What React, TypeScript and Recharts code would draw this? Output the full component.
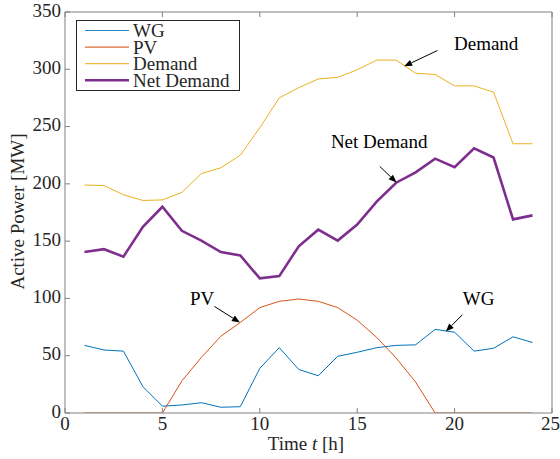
import React from 'react';
import { LineChart, Line, XAxis, YAxis, Legend, ReferenceLine, ReferenceDot } from 'recharts';

const hours = [1, 2, 3, 4, 5, 6, 7, 8, 9, 10, 11, 12, 13, 14, 15, 16, 17, 18, 19, 20, 21, 22, 23, 24];
const wg = [59, 55, 54, 23, 6, 7, 9, 5, 5.5, 39, 57, 38, 32.5, 49.5, 53, 57, 59, 59.5, 73, 70.5, 54, 56.5, 66.5, 61.5];
const pv = [0, 0, 0, 0, 0, 28, 48.5, 67, 79, 92, 97.5, 99.5, 97.5, 92, 81, 66, 48, 27, 0, 0, 0, 0, 0, 0];
const demand = [199, 198.5, 190.5, 185.5, 186, 192.5, 209, 214, 225, 249, 275, 284, 291.5, 293, 299.5, 308, 308, 296.5, 295.5, 285.5, 285.5, 280, 235, 235];
const netDemand = [140.5, 143, 136.5, 162.5, 180, 159, 150.5, 140.5, 137.5, 117.5, 119.5, 145.5, 160, 150.5, 164.5, 184.5, 201, 210, 222, 214.5, 231, 223, 169, 172.5];

const xTicks = [0, 5, 10, 15, 20, 25];
const yTicks = [0, 50, 100, 150, 200, 250, 300, 350];

const seriesNames = ['WG', 'PV', 'Demand', 'Net Demand'];
const seriesKeys = ['wg', 'pv', 'demand', 'net'];
const seriesColors = ['#0072BD', '#D95319', '#EDB120', '#7E2F8E'];
const seriesWidths = [1, 1, 1, 2.6];

// annotation texts: [label, x, y(baseline)]
const annoTexts: [string, number, number][] = [
  ['Demand', 19.97, 317],
  ['Net Demand', 13.65, 231],
  ['PV', 6.42, 94.5],
  ['WG', 20.42, 94.5],
];
// annotation arrows: [xStart, yStart, xTip, yTip]
const annoArrows: [number, number, number, number][] = [
  [19.12, 316.4, 17.41, 302.6],
  [16.16, 215.2, 17.02, 201.2],
  [7.67, 93, 8.98, 79],
  [20.4, 85.8, 19.55, 71.2],
];

const data = hours.map((t, i) => ({ t, wg: wg[i], pv: pv[i], demand: demand[i], net: netDemand[i] }));

const FONT = '"Liberation Serif", "Times New Roman", serif';
const TEXT = '#262626';
const AXIS = '#808080';

const EmptyTick = () => <g />;

const Arrow = (p: any) => {
  const { x1, y1, x2, y2 } = p;
  const ang = Math.atan2(y2 - y1, x2 - x1);
  const L = 8;
  const W = 3.2;
  const bx = x2 - L * Math.cos(ang);
  const by = y2 - L * Math.sin(ang);
  const px = -Math.sin(ang) * W;
  const py = Math.cos(ang) * W;
  return (
    <g>
      <line x1={x1} y1={y1} x2={bx} y2={by} stroke="#000" strokeWidth={1} />
      <polygon points={`${x2},${y2} ${bx + px},${by + py} ${bx - px},${by - py}`} fill="#000" />
    </g>
  );
};

const LegendBox = () => (
  <svg width={165} height={72} style={{ display: 'block' }}>
    <rect x={0.5} y={0.5} width={163} height={70} fill="#fff" stroke={TEXT} strokeWidth={1} />
    {seriesNames.map((n, i) => {
      const y = 10.5 + i * 16.6;
      return (
        <g key={n}>
          <line x1={9} x2={53} y1={y} y2={y} stroke={seriesColors[i]} strokeWidth={seriesWidths[i] === 1 ? 1.2 : 2.6} opacity={i === 3 ? 1 : 0.85} />
          <text x={57} y={y} dy="0.35em" fontSize={19} fontFamily={FONT} fill={TEXT}>{n}</text>
        </g>
      );
    })}
  </svg>
);

export default function App() {
  return (
    <div style={{ position: 'absolute', left: 0, top: 0, width: 560, height: 459, background: '#fff' }}>
      <LineChart width={560} height={459} data={data} margin={{ top: 0, right: 0, left: 0, bottom: 0 }}>
        <XAxis
          dataKey="t"
          type="number"
          domain={[0, 25]}
          ticks={xTicks}
          allowDataOverflow
          height={46}
          stroke={AXIS}
          tickSize={-5}
          tickMargin={9}
          tick={{ fill: TEXT, fontSize: 19, fontFamily: FONT }}
          label={(props: any) => {
            const vb = props.viewBox;
            return (
              <text x={vb.x + vb.width / 2 - 2.5} y={vb.y + 37} textAnchor="middle" fontSize={19} fontFamily={FONT} fill={TEXT}>
                Time <tspan fontStyle="italic">t</tspan> [h]
              </text>
            );
          }}
        />
        <XAxis xAxisId="top" orientation="top" dataKey="t" type="number" domain={[0, 25]} ticks={xTicks} height={12} stroke={AXIS} tickSize={-5} tick={EmptyTick} />
        <YAxis
          type="number"
          domain={[0, 350]}
          ticks={yTicks}
          allowDataOverflow
          width={65}
          stroke={AXIS}
          tickSize={-5}
          tickMargin={9}
          tick={{ fill: TEXT, fontSize: 19, fontFamily: FONT, dy: -2 }}
          label={(props: any) => {
            const vb = props.viewBox;
            const cx = vb.x + 17;
            const cy = vb.y + vb.height / 2 - 1;
            return (
              <text x={cx} y={cy} transform={`rotate(-90, ${cx}, ${cy})`} textAnchor="middle" dominantBaseline="central" fontSize={19} fontFamily={FONT} fill={TEXT}>
                Active Power [MW]
              </text>
            );
          }}
        />
        <YAxis yAxisId="right" orientation="right" type="number" domain={[0, 350]} ticks={yTicks} width={8} stroke={AXIS} tickSize={-5} tick={EmptyTick} />
        {seriesKeys.map((k, i) => (
          <Line key={k} dataKey={k} name={seriesNames[i]} stroke={seriesColors[i]} strokeWidth={seriesWidths[i]} dot={false} activeDot={false} isAnimationActive={false} type="linear" />
        ))}
        {annoArrows.map((a, i) => (
          <ReferenceLine key={'ar' + i} segment={[{ x: a[0], y: a[1] }, { x: a[2], y: a[3] }]} shape={Arrow} ifOverflow="visible" />
        ))}
        {annoTexts.map((a, i) => (
          <ReferenceDot
            key={'tx' + i}
            x={a[1]}
            y={a[2]}
            r={0}
            ifOverflow="visible"
            shape={(p: any) => (
              <text x={p.cx} y={p.cy} fontSize={19} fontFamily={FONT} fill="#000">{a[0]}</text>
            )}
          />
        ))}
        <Legend
          layout="vertical"
          align="center"
          verticalAlign="middle"
          wrapperStyle={{ position: 'absolute', left: 76, top: 20, width: 165, height: 72 }}
          content={() => <LegendBox />}
        />
      </LineChart>
    </div>
  );
}
